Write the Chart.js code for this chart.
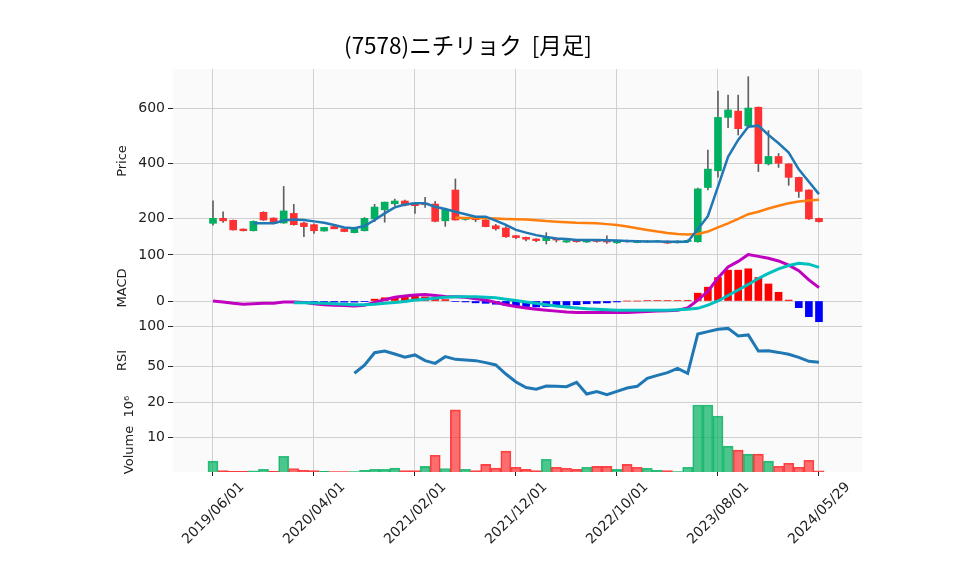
<!DOCTYPE html>
<html><head><meta charset="utf-8">
<script src="https://cdn.jsdelivr.net/npm/chart.js@4.4.1/dist/chart.umd.min.js"></script>
<style>
html,body{margin:0;padding:0;background:#fff;}
#wrap{position:relative;width:958px;height:575px;}
#wrap canvas{position:absolute;left:0;top:0;}
</style></head><body>
<div id="wrap">
<canvas id="cPrice" width="958" height="575"></canvas>
<canvas id="cMacd" width="958" height="575"></canvas>
<canvas id="cRsi" width="958" height="575"></canvas>
<canvas id="cVol" width="958" height="575"></canvas>
</div>
<script>
// ---------- data ----------
const dates = ['2019/06/01','2019/07/01','2019/08/01','2019/09/01','2019/10/01','2019/11/01','2019/12/01',
'2020/01/01','2020/02/01','2020/03/01','2020/04/01','2020/05/01','2020/06/01','2020/07/01','2020/08/01','2020/09/01','2020/10/01','2020/11/01','2020/12/01',
'2021/01/01','2021/02/01','2021/03/01','2021/04/01','2021/05/01','2021/06/01','2021/07/01','2021/08/01','2021/09/01','2021/10/01','2021/11/01','2021/12/01',
'2022/01/01','2022/02/01','2022/03/01','2022/04/01','2022/05/01','2022/06/01','2022/07/01','2022/08/01','2022/09/01','2022/10/01','2022/11/01','2022/12/01',
'2023/01/01','2023/02/01','2023/03/01','2023/04/01','2023/05/01','2023/06/01','2023/07/01','2023/08/01','2023/09/01','2023/10/01','2023/11/01','2023/12/01',
'2024/01/01','2024/02/01','2024/03/01','2024/04/01','2024/05/01','2024/05/29'];

const opens  = [182,200,193,161,155,222,201,183,218,183,177,154,170,162,148,155,198,231,253,263,255,255,252,191,303,196,202,194,173,165,
                137,131,125,119,127,114,121,114,121,119,111,119,112,114,116,117,111,116,115,312,373,567,590,536,604,398,425,398,349,303,200];
const highs  = [264,224,194,162,191,224,202,316,251,186,180,167,178,163,165,203,251,259,270,266,258,276,262,233,343,203,203,206,178,170,
                138,132,126,148,129,122,123,122,123,136,120,121,116,119,120,118,119,122,310,448,663,648,648,715,605,519,436,399,350,304,201];
const lows   = [175,185,157,154,154,192,180,182,175,133,145,153,162,151,147,154,188,186,246,245,218,240,187,171,194,193,188,169,157,131,
                126,118,115,107,114,112,113,112,113,109,109,113,111,113,115,108,110,115,113,303,350,530,503,530,370,394,385,320,276,196,186];
const closes = [200,191,158,155,189,194,182,227,177,170,155,167,162,152,161,200,241,259,263,248,246,250,189,232,194,202,195,170,162,133,
                130,124,119,130,121,119,115,120,116,114,118,115,114,117,118,110,117,120,307,379,567,594,526,601,399,425,400,349,298,198,188];
const volumes = [3.1,0.4,0.2,0.2,0.3,0.8,0.2,4.5,1.0,0.5,0.4,0.2,0.15,0.15,0.15,0.5,0.8,0.8,1.1,0.4,0.4,1.6,4.8,1.0,17.8,0.8,0.4,2.2,1.1,6.0,
                 1.35,0.77,0.4,3.66,1.35,1.07,0.77,1.35,1.6,1.6,0.77,2.2,1.35,1.07,0.5,0.4,0.15,1.35,19.2,19.2,16.05,7.4,6.25,5.1,5.1,3.1,1.64,2.5,1.35,3.37,0.3];
const ma5 = [null,null,null,null,182,182,182,192,196,194,189,184,176,167,164,172,194,218,240,250,255,255,242,234,224,215,206,206,192,176,
             158,148,139,132,127,125,121,121,121,120,119,118,117,116,116,115,115,115,160,208,315,424,485,533,537,503,473,439,378,333,288];
const ma25 = [null,null,null,null,null,null,null,null,null,null,null,null,null,null,null,null,null,null,null,null,null,null,null,null,
              202,201,201,200,199,198,197,196,193,190,188,186,184,183,182,179,176,170,164,158,152,147,143,141,143,152,167,182,198,215,224,236,246,255,261,265,268];
const macdLine = [0,-2,-5,-7,-6,-5,-5,-2,-2,-3,-6,-8,-9,-10,-11,-9,-3,3,8,11,13,14,12,10,9,8,5,2,-3,-8,
                  -12,-15,-18,-20,-22,-24,-25,-25,-25,-25,-25,-25,-24,-23,-22,-21,-20,-15,2,21,50,74,86,101,97,93,87,78,66,46,29];
const signalLine = [null,null,null,null,null,null,null,null,-3.6,-4,-4.5,-5,-6,-7,-8,-8,-7,-5,-3,-1,2,4,6,8,9,9,9,8,7,4,
                    1,-2,-5,-8,-11,-13,-15,-17,-18,-19,-20,-20,-20,-20,-20,-20,-19,-18,-16,-9,0,12,24,36,49,60,70,77,82,80,73];
const macdHist = [null,null,null,null,null,null,null,null,-1.5,-1.5,-2,-2,-2.5,-2.5,-2.5,-1.5,4,7,8,9,10,9,6,3,-1,-2,-4,-5,-7,-9,
                  -11,-12,-13,-12,-11,-9,-8,-6,-5,-4,-2,0,0,1,1,1,1,1.5,17,30,51,67,67,70,51,37,19,2,-14.5,-34,-45];
const rsi = [null,null,null,null,null,null,null,null,null,null,null,null,null,null,41,51,66.6,68.8,65,61,63.8,56.7,53.3,61.7,58.3,57.5,56.7,54.2,51.3,40,
             30,23,21,25,24.6,24.2,29.6,15,18,14.2,18.3,22.5,24.6,34.6,38.3,41.7,47,40.8,90,93,96,97,87.5,88.8,68.8,69,67,64.6,60.8,55.8,54.6];

const xTickIdx = [0,10,20,30,40,50,60];
const priceTicks = [200,400,600];
const macdTicks = [0,100];
const rsiTicks = [50,100];
const volTicks = [10,20];
const titleText = '(7578)ニチリョク  [月足]';

// ---------- styles ----------
const UP = '#00b060', DOWN = '#fe3032', WICK = '#606060';
const GRID = '#d0d0d0', TXT = '#222';
const TICK_FONT = {family: "'DejaVu Sans', sans-serif", size: 14};
const LABEL_FONT = {family: "'DejaVu Sans', sans-serif", size: 13};
const X_MIN = -3.96, X_MAX = 64.26;
const PAD_L = 74, PAD_R = 96, YW = 99;

const pts = arr => arr.map((v, i) => ({x: i, y: v}));

const bgPlugin = {
  id: 'panelBg',
  beforeDraw(chart) {
    const {ctx, chartArea: a} = chart;
    ctx.save();
    ctx.fillStyle = '#fafafa';
    ctx.fillRect(a.left, a.top, a.right - a.left, a.bottom - a.top);
    ctx.restore();
  }
};

function xAxis(showLabels) {
  return {
    type: 'linear', min: X_MIN, max: X_MAX, offset: false,
    afterBuildTicks: s => { s.ticks = xTickIdx.map(v => ({value: v})); },
    afterFit: s => { s.height = showLabels ? 100 : 0; },
    grid: {color: GRID, lineWidth: 1, offset: false, drawTicks: showLabels, tickLength: 4, tickColor: TXT},
    border: {display: false},
    ticks: showLabels ? {
      font: TICK_FONT, color: TXT, minRotation: 45, maxRotation: 45, autoSkip: false,
      padding: 3, labelOffset: 29, callback: v => dates[v]
    } : {display: false}
  };
}

function yAxis(min, max, tickArr, title, titlePad, cb) {
  return {
    type: 'linear', position: 'left', min, max,
    afterBuildTicks: s => { s.ticks = tickArr.map(v => ({value: v})); },
    afterFit: s => { s.width = YW; },
    grid: {color: GRID, lineWidth: 1, drawTicks: true, tickLength: 5, tickColor: TXT},
    border: {display: false},
    ticks: {font: TICK_FONT, color: TXT, padding: 3, callback: cb || (v => String(v))},
    title: {display: true, text: title, font: LABEL_FONT, color: TXT, padding: {top: titlePad, bottom: 0}}
  };
}

function baseOptions(top, bottom, showX, yOpts, extraPlugins) {
  return {
    responsive: false, animation: false, devicePixelRatio: 1,
    layout: {padding: {left: PAD_L, right: PAD_R, top, bottom}},
    scales: {x: xAxis(showX), y: yOpts},
    plugins: Object.assign({legend: {display: false}, tooltip: {enabled: false}}, extraPlugins || {})
  };
}

// ---------- price panel ----------
new Chart(document.getElementById('cPrice'), {
  type: 'bar',
  data: {datasets: [
    {type: 'line', data: pts(ma5), borderColor: '#1f77b4', borderWidth: 2.5, pointRadius: 0, order: 0},
    {type: 'line', data: pts(ma25), borderColor: '#ff7f0e', borderWidth: 2.5, pointRadius: 0, order: 0},
    {type: 'bar', data: opens.map((o, i) => ({x: i, y: [o, closes[i]]})), grouped: false, barThickness: 7,
     backgroundColor: c => closes[c.dataIndex] >= opens[c.dataIndex] ? UP : DOWN, order: 1},
    {type: 'bar', data: highs.map((h, i) => ({x: i, y: [lows[i], h]})), grouped: false, barThickness: 1,
     backgroundColor: WICK, order: 2}
  ]},
  options: baseOptions(31.5, 322, false, yAxis(74, 743, priceTicks, 'Price', 41), {
    title: {display: true, text: titleText, color: '#000',
            font: {family: "'Noto Sans CJK JP', sans-serif", size: 22.5, weight: 'normal'},
            padding: {top: 0, bottom: 10.5}}
  }),
  plugins: [bgPlugin]
});

// ---------- MACD panel ----------
new Chart(document.getElementById('cMacd'), {
  type: 'bar',
  data: {datasets: [
    {type: 'line', data: pts(signalLine), borderColor: '#00bfbf', borderWidth: 3, pointRadius: 0, order: 0},
    {type: 'line', data: pts(macdLine), borderColor: '#bf00bf', borderWidth: 3, pointRadius: 0, order: 1},
    {type: 'bar', data: pts(macdHist), grouped: false, barThickness: 7,
     backgroundColor: c => (macdHist[c.dataIndex] >= 0 ? '#ff0000' : '#0000ff'), order: 2}
  ]},
  options: baseOptions(253, 252, false, yAxis(-47.8, 104.3, macdTicks, 'MACD', 41)),
  plugins: [bgPlugin]
});

// ---------- RSI panel ----------
new Chart(document.getElementById('cRsi'), {
  type: 'line',
  data: {datasets: [
    {data: pts(rsi), borderColor: '#1f77b4', borderWidth: 3, pointRadius: 0}
  ]},
  options: baseOptions(323, 177, false, yAxis(10, 103.75, rsiTicks, 'RSI', 41)),
  plugins: [bgPlugin]
});

// ---------- Volume panel ----------
const volUp = i => i === 0 ? closes[0] >= opens[0] : closes[i] >= closes[i - 1];
new Chart(document.getElementById('cVol'), {
  type: 'bar',
  data: {datasets: [
    {data: pts(volumes), grouped: false, barThickness: 10.1, borderWidth: 1, borderSkipped: 'start',
     backgroundColor: c => volUp(c.dataIndex) ? 'rgba(0,176,96,0.7)' : 'rgba(254,48,50,0.7)',
     borderColor: c => volUp(c.dataIndex) ? 'rgba(0,176,96,0.8)' : 'rgba(254,48,50,0.9)'}
  ]},
  options: baseOptions(398, 3, true, yAxis(0, 21.2, volTicks, 'Volume  10⁶', 48)),
  plugins: [bgPlugin]
});
</script>
</body></html>
